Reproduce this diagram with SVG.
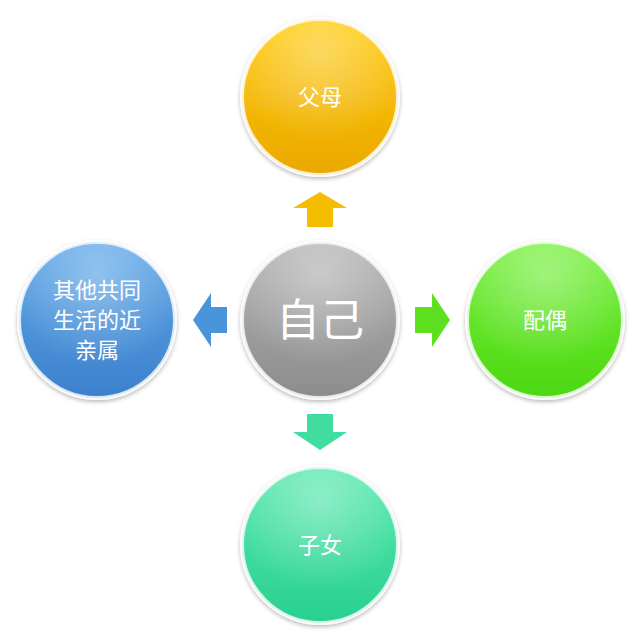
<svg xmlns="http://www.w3.org/2000/svg" width="641" height="640" viewBox="0 0 641 640">
<defs>
<linearGradient id="gc" x1="0" y1="0" x2="0" y2="1"><stop offset="0" stop-color="#b4b4b4"/><stop offset="1" stop-color="#8c8c8c"/></linearGradient>
<linearGradient id="gt" x1="0" y1="0" x2="0" y2="1"><stop offset="0" stop-color="#ffcc10"/><stop offset="1" stop-color="#eaa800"/></linearGradient>
<linearGradient id="gr" x1="0" y1="0" x2="0" y2="1"><stop offset="0" stop-color="#78f040"/><stop offset="1" stop-color="#4cd810"/></linearGradient>
<linearGradient id="gb" x1="0" y1="0" x2="0" y2="1"><stop offset="0" stop-color="#5ae8b0"/><stop offset="1" stop-color="#28d090"/></linearGradient>
<linearGradient id="gl" x1="0" y1="0" x2="0" y2="1"><stop offset="0" stop-color="#5fa8e8"/><stop offset="1" stop-color="#3c80cc"/></linearGradient>
<radialGradient id="shine" cx="0.5" cy="0.2" r="0.6"><stop offset="0" stop-color="#fff" stop-opacity="0.35"/><stop offset="1" stop-color="#fff" stop-opacity="0"/></radialGradient>
<filter id="sh" x="-20%" y="-20%" width="140%" height="140%"><feDropShadow dx="0" dy="2" stdDeviation="2" flood-opacity="0.3"/></filter>
</defs>
<style>
.c{stroke:#fff;stroke-opacity:0.8;stroke-width:4;filter:url(#sh)}
.s{fill:url(#shine)}
text{font-family:"Noto Sans CJK SC",sans-serif;fill:#fff;text-anchor:middle}
</style>
<g id="connectors">
<polygon points="320,192 347,208 333,208 333,227 307,227 307,208 293,208" fill="#f5bd00"/>
<polygon points="450,320 432,347 432,333 415,333 415,307 432,307 432,293" fill="#5de020"/>
<polygon points="320,450 293,432 307,432 307,414 333,414 333,432 347,432" fill="#40dca0"/>
<polygon points="193,320 211,293 211,307 227,307 227,333 211,333 211,347" fill="#4a94dc"/>
</g>
<g id="center"><circle class="c" cx="320" cy="320" r="78" fill="url(#gc)"/><circle class="s" cx="320" cy="320" r="76"/><text x="320" y="336" font-size="44">自己</text></g>
<g id="top"><circle class="c" cx="320" cy="97" r="78" fill="url(#gt)"/><circle class="s" cx="320" cy="97" r="76"/><text x="320" y="105" font-size="22">父母</text></g>
<g id="right"><circle class="c" cx="545" cy="320" r="78" fill="url(#gr)"/><circle class="s" cx="545" cy="320" r="76"/><text x="545" y="328" font-size="22">配偶</text></g>
<g id="bottom"><circle class="c" cx="320" cy="545" r="78" fill="url(#gb)"/><circle class="s" cx="320" cy="545" r="76"/><text x="320" y="553" font-size="22">子女</text></g>
<g id="left"><circle class="c" cx="97" cy="320" r="78" fill="url(#gl)"/><circle class="s" cx="97" cy="320" r="76"/><text x="97" y="298" font-size="22">其他共同</text><text x="97" y="328" font-size="22">生活的近</text><text x="97" y="358" font-size="22">亲属</text></g>
</svg>
